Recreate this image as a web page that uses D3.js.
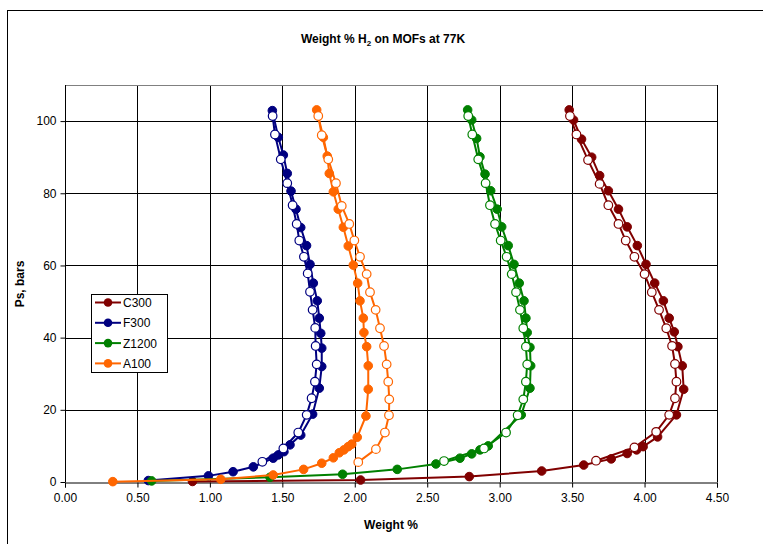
<!DOCTYPE html>
<html>
<head>
<meta charset="utf-8">
<script src="https://cdn.jsdelivr.net/npm/d3@7"></script>
<style>
  html, body { margin: 0; padding: 0; background: #fff; }
  svg { display: block; font-family: "Liberation Sans", Arial, sans-serif; }
</style>
</head>
<body>
<svg id="chart" width="763" height="544"></svg>
<script>
// ---- Data (weight %, pressure in bars) ----
const seriesNames = ["C300", "F300", "Z1200", "A100"];
const seriesColors = ["#800000", "#000080", "#008000", "#FF6600"];
const xTicks = [0, 0.5, 1, 1.5, 2, 2.5, 3, 3.5, 4, 4.5];
const yTicks = [0, 20, 40, 60, 80, 100];

// C300 adsorption (filled) and desorption (open)
const c300AdsW = [0.88, 2.04, 2.79, 3.29, 3.58, 3.77, 3.88, 3.945, 3.99, 4.09, 4.22, 4.27, 4.26, 4.23, 4.205, 4.17, 4.13, 4.07, 4.01, 3.95, 3.88, 3.82, 3.75, 3.69, 3.635, 3.565, 3.51, 3.48];
const c300AdsP = [0.15, 0.55, 1.5, 3.05, 4.7, 6.4, 7.9, 8.9, 9.8, 12.5, 18.6, 25.7, 32.2, 37.5, 41.6, 45.4, 50.2, 55.1, 60.3, 65.5, 70.7, 75.6, 80.7, 84.9, 90.0, 95.0, 100.3, 103.1];
const c300DesW = [3.485, 3.53, 3.61, 3.69, 3.75, 3.82, 3.87, 3.93, 4.0, 4.05, 4.10, 4.15, 4.19, 4.21, 4.22, 4.21, 4.17, 4.08, 3.93, 3.665];
const c300DesP = [101.4, 96.3, 89.2, 82.6, 76.7, 71.5, 66.9, 62.4, 57.6, 52.6, 47.7, 42.6, 37.7, 32.7, 27.8, 23.2, 18.6, 13.9, 9.6, 5.9];

// F300
const f300AdsW = [0.575, 0.99, 1.16, 1.30, 1.437, 1.472, 1.511, 1.553, 1.627, 1.709, 1.755, 1.772, 1.772, 1.765, 1.755, 1.741, 1.714, 1.691, 1.667, 1.627, 1.594, 1.56, 1.534, 1.507, 1.472, 1.431];
const f300AdsP = [0.4, 1.7, 2.85, 4.2, 6.6, 7.5, 8.4, 10.3, 13.0, 18.8, 26.0, 32.0, 37.1, 41.2, 45.4, 50.2, 55.1, 60.3, 65.5, 70.5, 75.6, 80.6, 85.5, 90.6, 95.5, 102.9];
const f300DesW = [1.433, 1.449, 1.489, 1.534, 1.571, 1.599, 1.617, 1.649, 1.675, 1.691, 1.709, 1.727, 1.73, 1.737, 1.725, 1.702, 1.668, 1.61, 1.507, 1.362];
const f300DesP = [101.4, 96.3, 89.4, 82.8, 76.7, 71.5, 66.9, 62.4, 57.8, 52.7, 47.7, 42.7, 37.7, 32.6, 27.8, 23.2, 18.6, 13.7, 9.3, 5.6];

// Z1200
const z1200AdsW = [0.598, 1.415, 1.916, 2.293, 2.56, 2.726, 2.807, 2.864, 2.921, 3.149, 3.209, 3.214, 3.209, 3.19, 3.181, 3.168, 3.135, 3.099, 3.059, 3.014, 2.983, 2.938, 2.899, 2.864, 2.841, 2.807, 2.779];
const z1200AdsP = [0.3, 1.3, 2.15, 3.5, 5.0, 6.6, 7.8, 8.9, 10.0, 18.6, 26.0, 32.2, 37.3, 41.4, 45.4, 50.2, 55.1, 60.3, 65.5, 70.7, 75.6, 80.7, 85.3, 90.1, 95.2, 100.3, 103.1];
const z1200DesW = [2.783, 2.811, 2.852, 2.903, 2.933, 2.968, 3.007, 3.048, 3.083, 3.113, 3.14, 3.163, 3.181, 3.19, 3.181, 3.163, 3.124, 3.044, 2.892, 2.616];
const z1200DesP = [101.4, 96.3, 89.4, 82.8, 76.7, 71.5, 66.9, 62.4, 57.6, 52.6, 47.7, 42.6, 37.5, 32.6, 27.8, 22.9, 18.5, 13.7, 9.3, 5.8];

// A100
const a100AdsW = [0.33, 1.075, 1.437, 1.647, 1.772, 1.852, 1.893, 1.925, 1.955, 1.979, 2.017, 2.077, 2.093, 2.093, 2.082, 2.063, 2.059, 2.036, 2.02, 1.99, 1.955, 1.921, 1.886, 1.852, 1.824, 1.81, 1.783, 1.737];
const a100AdsP = [0.1, 0.75, 1.95, 3.5, 5.2, 6.7, 8.1, 8.9, 9.8, 10.5, 12.4, 18.3, 25.7, 32.2, 37.5, 41.4, 45.4, 50.2, 55.1, 60.1, 65.4, 70.6, 75.6, 80.4, 85.5, 90.3, 95.5, 103.1];
const a100DesW = [1.748, 1.772, 1.817, 1.87, 1.91, 1.962, 1.997, 2.036, 2.082, 2.105, 2.144, 2.174, 2.202, 2.22, 2.231, 2.238, 2.236, 2.208, 2.146, 2.024];
const a100DesP = [101.4, 96.1, 89.4, 82.8, 76.5, 71.5, 66.9, 62.4, 57.6, 52.6, 47.7, 42.6, 37.7, 32.6, 27.8, 22.9, 18.5, 13.7, 9.1, 5.5];

const adsW = [c300AdsW, f300AdsW, z1200AdsW, a100AdsW];
const adsP = [c300AdsP, f300AdsP, z1200AdsP, a100AdsP];
const desW = [c300DesW, f300DesW, z1200DesW, a100DesW];
const desP = [c300DesP, f300DesP, z1200DesP, a100DesP];

// ---- Layout ----
const svg = d3.select("#chart");
const pLeft = 65, pRight = 717, pTop = 85, pBottom = 482;
const x = d3.scaleLinear().domain([0, 4.5]).range([pLeft, pRight]);
const y = d3.scaleLinear().domain([0, 110]).range([pBottom, pTop]);

// outer frame
svg.append("rect").attr("x", 7.5).attr("y", 10.5).attr("width", 780).attr("height", 560)
  .attr("fill", "#fff").attr("stroke", "#000").attr("stroke-width", 1);

// gridlines
const grid = svg.append("g");
grid.selectAll("line.v").data(xTicks.filter(d => d > 0)).join("line")
  .attr("x1", d => Math.round(x(d)) + 0.5).attr("x2", d => Math.round(x(d)) + 0.5)
  .attr("y1", pTop).attr("y2", pBottom)
  .attr("stroke", "#000").attr("stroke-width", 1);
grid.selectAll("line.h").data(yTicks.filter(d => d > 0)).join("line")
  .attr("y1", d => Math.round(y(d)) + 0.5).attr("y2", d => Math.round(y(d)) + 0.5)
  .attr("x1", pLeft).attr("x2", pRight)
  .attr("stroke", "#000").attr("stroke-width", 1);
// plot area top border
grid.append("line").attr("x1", pLeft).attr("x2", Math.round(pRight) + 0.5)
  .attr("y1", pTop + 0.5).attr("y2", pTop + 0.5).attr("stroke", "#808080");

// axes
const xAxis = d3.axisBottom(x).tickValues(xTicks).tickFormat(d3.format(".2f")).tickSizeOuter(0).tickSize(5).tickPadding(6);
const yAxis = d3.axisLeft(y).tickValues(yTicks).tickFormat(d3.format("d")).tickSizeOuter(0).tickSize(5).tickPadding(4);
const gx = svg.append("g").attr("transform", `translate(0,${Math.round(pBottom) + 0.5})`).call(xAxis);
const gy = svg.append("g").attr("transform", `translate(${pLeft + 0.5},0)`).call(yAxis);
[gx, gy].forEach(g => {
  g.select(".domain").attr("stroke", "#000");
  g.selectAll(".tick line").attr("stroke", "#000");
  g.selectAll(".tick text").attr("fill", "#000").attr("font-size", "12px")
    .attr("font-family", "'Liberation Sans', Arial, sans-serif");
});
gy.select(".domain").attr("d", `M0,${pBottom}V${pTop}`);

// series
const line = d3.line().x(d => x(d[0])).y(d => y(d[1]));
const plot = svg.append("g");
seriesNames.forEach((name, i) => {
  const ads = adsW[i].map((w, k) => [w, adsP[i][k]]);
  const des = desW[i].map((w, k) => [w, desP[i][k]]);
  const g = plot.append("g");
  g.append("path").datum(ads).attr("d", line).attr("fill", "none")
    .attr("stroke", seriesColors[i]).attr("stroke-width", 2);
  g.append("path").datum(des).attr("d", line).attr("fill", "none")
    .attr("stroke", seriesColors[i]).attr("stroke-width", 2);
  g.selectAll("circle.a").data(ads).join("circle")
    .attr("cx", d => x(d[0])).attr("cy", d => y(d[1])).attr("r", 4.3)
    .attr("fill", seriesColors[i]).attr("stroke", seriesColors[i]).attr("stroke-width", 1);
  g.selectAll("circle.d").data(des).join("circle")
    .attr("cx", d => x(d[0])).attr("cy", d => y(d[1])).attr("r", 4.3)
    .attr("fill", "#fff").attr("stroke", seriesColors[i]).attr("stroke-width", 1.2);
});

// right border of plot area
svg.append("line").attr("x1", Math.round(pRight) + 0.5).attr("x2", Math.round(pRight) + 0.5)
  .attr("y1", pTop).attr("y2", pBottom).attr("stroke", "#000");

// legend
const lg = svg.append("g");
lg.append("rect").attr("x", 91.5).attr("y", 294.5).attr("width", 76).attr("height", 78)
  .attr("fill", "#fff").attr("stroke", "#000").attr("stroke-width", 1);
seriesNames.forEach((name, i) => {
  const cy = 302.5 + i * 20.3;
  lg.append("line").attr("x1", 95).attr("x2", 121).attr("y1", cy).attr("y2", cy)
    .attr("stroke", seriesColors[i]).attr("stroke-width", 2);
  lg.append("circle").attr("cx", 108).attr("cy", cy).attr("r", 4.3).attr("fill", seriesColors[i]);
  lg.append("text").attr("x", 123).attr("y", cy + 4.5).attr("font-size", "12px")
    .attr("fill", "#000").text(name);
});

// titles
const title = svg.append("text").attr("x", 383).attr("y", 43).attr("text-anchor", "middle")
  .attr("font-size", "12px").attr("font-weight", "bold").attr("fill", "#000");
title.append("tspan").text("Weight % H");
title.append("tspan").attr("font-size", "8px").attr("dy", 3).text("2");
title.append("tspan").attr("dy", -3).text(" on MOFs at 77K");

svg.append("text").attr("x", 391).attr("y", 529).attr("text-anchor", "middle")
  .attr("font-size", "12px").attr("font-weight", "bold").attr("fill", "#000").text("Weight %");
svg.append("text").attr("transform", "translate(24,284) rotate(-90)").attr("text-anchor", "middle")
  .attr("font-size", "12px").attr("font-weight", "bold").attr("fill", "#000").text("Ps, bars");
</script>
</body>
</html>
